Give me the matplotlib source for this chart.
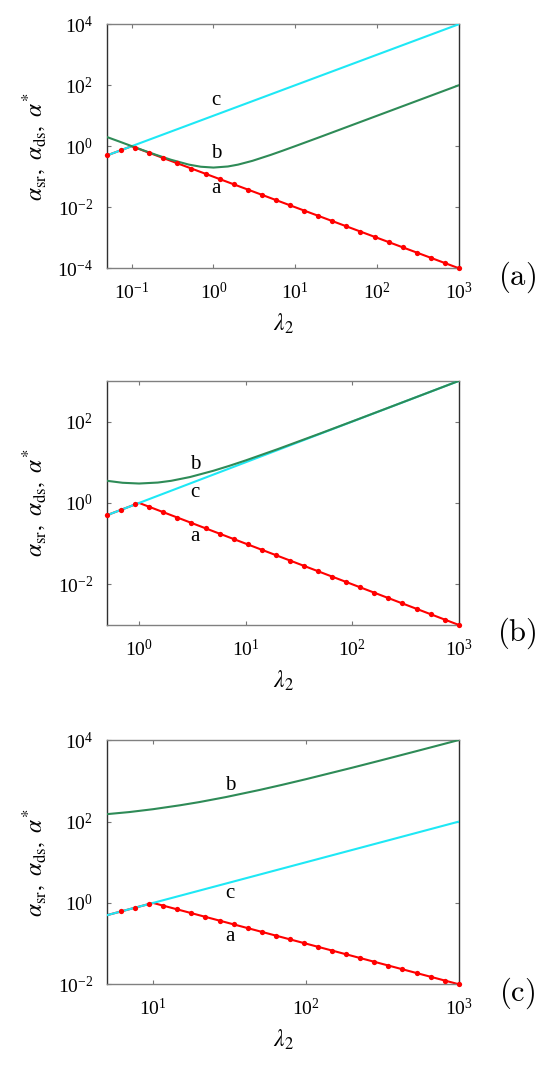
import numpy as np
import matplotlib
matplotlib.use('Agg')
import matplotlib.pyplot as plt

plt.rcParams['font.family'] = 'serif'
plt.rcParams['font.serif'] = ['Liberation Serif', 'DejaVu Serif']
plt.rcParams['mathtext.fontset'] = 'stix'
plt.rcParams['axes.unicode_minus'] = False

# ---- panel (a) ----
a_dot_lam = [0.05, 0.0743, 0.110, 0.164, 0.244, 0.362, 0.538, 0.800, 1.19, 1.77, 2.63, 3.90, 5.80,
             8.62, 12.8, 19.0, 28.3, 42.1, 62.5, 92.9, 138, 205, 305, 453, 673, 1000]
a_dot_val = [0.5, 0.743, 0.906, 0.610, 0.410, 0.276, 0.186, 0.125, 0.0841, 0.0566, 0.0381, 0.0256,
             0.0172, 0.0116, 0.0078, 0.00525, 0.00353, 0.00238, 0.0016, 0.00108, 0.000725, 0.000488,
             0.000328, 0.000221, 0.000149, 0.0001]
a_red_lam = [0.05, 0.1, 1000]
a_red_val = [0.5, 1.0, 1e-4]
a_cyan_lam = [0.05, 1000]
a_cyan_val = [0.5, 1e4]
a_green_lam = [0.05, 0.07, 0.1, 0.15, 0.2, 0.3, 0.5, 0.7, 1, 1.5, 2, 3, 5, 7, 10, 20, 50, 100, 200, 500, 1000]
a_green_val = [2.0, 1.44, 1.01, 0.682, 0.52, 0.363, 0.25, 0.213, 0.2, 0.217, 0.25, 0.333, 0.52, 0.714,
               1.01, 2.0, 5.0, 10, 20, 50, 100]

# ---- panel (b) ----
b_dot_lam = [0.5, 0.678, 0.918, 1.24, 1.69, 2.29, 3.10, 4.20, 5.69, 7.71, 10.4, 14.2, 19.2, 26.0,
             35.2, 47.7, 64.6, 87.6, 119, 161, 218, 295, 400, 542, 735, 1000]
b_dot_val = [0.5, 0.678, 0.918, 0.804, 0.593, 0.438, 0.323, 0.238, 0.176, 0.130, 0.0958, 0.0707,
             0.0522, 0.0385, 0.0284, 0.0210, 0.0155, 0.0114, 0.00843, 0.00622, 0.00459, 0.00339,
             0.0025, 0.00184, 0.00136, 0.001]
b_red_lam = [0.5, 1.0, 1000]
b_red_val = [0.5, 1.0, 1e-3]
b_cyan_lam = [0.5, 1000]
b_cyan_val = [0.5, 1000]
b_green_lam = [0.5, 0.7, 1, 1.5, 2, 3, 5, 7, 10, 20, 50, 100, 200, 500, 1000]
b_green_val = [3.5, 3.13, 3.0, 3.17, 3.5, 4.33, 6.2, 8.14, 11.1, 21.05, 51, 101, 201, 501, 1001]

# ---- panel (c) ----
c_dot_lam = [6.18, 7.64, 9.44, 11.7, 14.4, 17.8, 22.0, 27.2, 33.6, 41.6, 51.4, 63.5, 78.5, 97.0,
             120, 148, 183, 226, 280, 346, 427, 528, 653, 807, 1000]
c_dot_val = [0.618, 0.764, 0.944, 0.857, 0.694, 0.561, 0.454, 0.367, 0.297, 0.240, 0.195, 0.157,
             0.127, 0.103, 0.0834, 0.0675, 0.0546, 0.0442, 0.0357, 0.0289, 0.0234, 0.0189, 0.0153,
             0.0124, 0.01]
c_red_lam = [5, 10, 1000]
c_red_val = [0.5, 1.0, 0.01]
c_cyan_lam = [5, 1000]
c_cyan_val = [0.5, 100]
c_green_lam = [5, 7, 10, 15, 20, 30, 50, 70, 100, 200, 300, 500, 700, 1000]
c_green_val = [152, 171, 201, 251, 300, 400, 600, 800, 1100, 2100, 3100, 5100, 7100, 10100]

panel_names = ['a', 'b', 'c']
xlims = [(0.05, 1000), (0.5, 1000), (5, 1000)]
ylims = [(1e-4, 1e4), (1e-3, 1e3), (1e-2, 1e4)]
xticks = [[1e-1, 1e0, 1e1, 1e2, 1e3], [1e0, 1e1, 1e2, 1e3], [1e1, 1e2, 1e3]]
yticks = [[1e-4, 1e-2, 1e0, 1e2, 1e4], [1e-2, 1e0, 1e2], [1e-2, 1e0, 1e2, 1e4]]
# curve-label positions (axes fraction): (x, y_a, y_b, y_c)
label_pos = [(0.31, 0.327, 0.469, 0.687), (0.25, 0.363, 0.658, 0.541), (0.35, 0.194, 0.813, 0.371)]

red = '#ff0000'
cyan = '#1ee8f5'
green = '#2e8b57'

fig = plt.figure(figsize=(5.45, 10.78), dpi=100)
bottoms = [0.7511, 0.4202, 0.0869]

series = [
    (a_dot_lam, a_dot_val, a_red_lam, a_red_val, a_cyan_lam, a_cyan_val, a_green_lam, a_green_val),
    (b_dot_lam, b_dot_val, b_red_lam, b_red_val, b_cyan_lam, b_cyan_val, b_green_lam, b_green_val),
    (c_dot_lam, c_dot_val, c_red_lam, c_red_val, c_cyan_lam, c_cyan_val, c_green_lam, c_green_val),
]

for k in range(3):
    dl, dv, rl, rv, cl, cv, gl, gv = series[k]
    ax = fig.add_axes([0.1963, bottoms[k], 0.6459, 0.2265])
    ax.set_xscale('log')
    ax.set_yscale('log')

    ax.plot(rl, rv, color=red, lw=1.5, zorder=2)
    ax.plot(cl, cv, color=cyan, lw=1.5, zorder=3)
    ax.plot(gl, gv, color=green, lw=1.5, zorder=3)
    ax.plot(dl, dv, 'o', color=red, ms=3.8, mec='none', zorder=4, clip_on=False)

    ax.set_xlim(*xlims[k])
    ax.set_ylim(*ylims[k])
    ax.set_xticks(xticks[k])
    ax.set_yticks(yticks[k])
    ax.minorticks_off()
    ax.tick_params(which='both', direction='in', top=True, right=True, length=3, width=0.8,
                   color='#777777', labelsize=14, pad=10)

    for s in ['top', 'bottom']:
        ax.spines[s].set_color('#808080')
    for s in ['left', 'right']:
        ax.spines[s].set_color('#303030')
    for s in ax.spines.values():
        s.set_linewidth(1.0)

    lx, ya, yb, yc = label_pos[k]
    ax.text(lx, ya, 'a', transform=ax.transAxes, ha='center', va='center', fontsize=15)
    ax.text(lx, yb, 'b', transform=ax.transAxes, ha='center', va='center', fontsize=15)
    ax.text(lx, yc, 'c', transform=ax.transAxes, ha='center', va='center', fontsize=15)

    ax.text(1.164, -0.035, r'$(\mathrm{' + panel_names[k] + '})$', transform=ax.transAxes,
            ha='center', va='center', fontsize=22, math_fontfamily='cm')

    ax.set_xlabel(r'$\lambda_2$', fontsize=17, labelpad=6)
    ax.set_ylabel(r'$\alpha_{\rm sr},\ \alpha_{\rm ds},\ \alpha^{*}$', fontsize=17, labelpad=6)

fig.savefig('out.png', dpi=100)
